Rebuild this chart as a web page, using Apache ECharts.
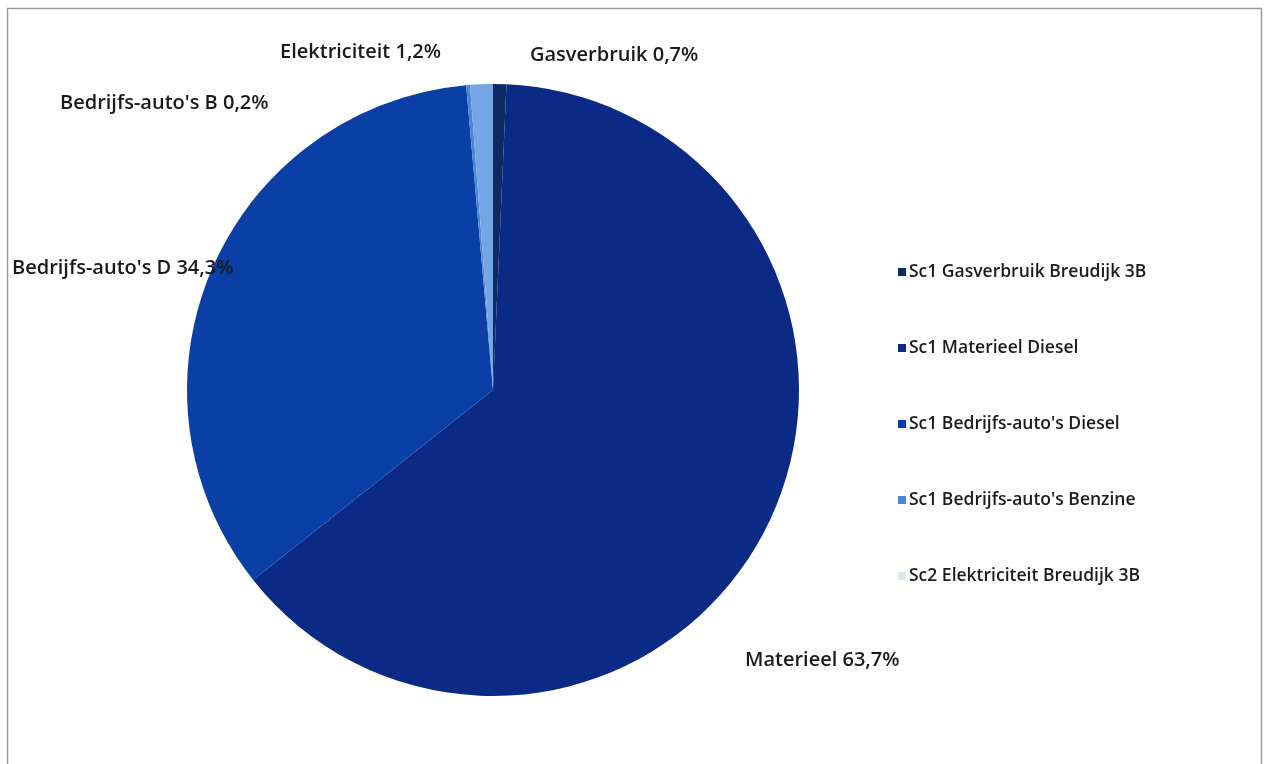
<!DOCTYPE html>
<html>
<head>
<meta charset="utf-8">
<script src="https://cdn.jsdelivr.net/npm/echarts@6/dist/echarts.min.js"></script>
<style>
  html, body { margin: 0; padding: 0; background: #ffffff; }
  #chart { width: 1268px; height: 764px; }
</style>
</head>
<body>
<div id="chart"></div>
<script>
// Energieverbruik per bron (aandeel in %)
const categories = [
  'Sc1 Gasverbruik Breudijk 3B',
  'Sc1 Materieel Diesel',
  "Sc1 Bedrijfs-auto's Diesel",
  "Sc1 Bedrijfs-auto's Benzine",
  'Sc2 Elektriciteit Breudijk 3B'
];
const shortNames = ['Gasverbruik', 'Materieel', "Bedrijfs-auto's D", "Bedrijfs-auto's B", 'Elektriciteit'];
const values = [0.7, 63.7, 34.3, 0.2, 1.2];

const sliceColors = ['#0f2a62', '#0b2a86', '#0a3fa6', '#4a86d6', '#74a6e6'];
const legendColors = ['#0f2a62', '#0b2a86', '#0a3fa6', '#4a86d6', '#dde7f4'];

// label anchor points per slice (left edge, vertical middle)
const labelSpots = [[530, 55], [745, 660], [12, 268], [60, 103], [280, 52]];

const chart = echarts.init(document.getElementById('chart'), null, { renderer: 'canvas' });

const fmt = v => v.toFixed(1).replace('.', ',') + '%';

chart.setOption({
  backgroundColor: '#ffffff',
  animation: false,
  graphic: [{
    type: 'rect',
    shape: { x: 7.5, y: 8.5, width: 1254, height: 800 },
    style: { fill: 'none', stroke: '#9a9a9a', lineWidth: 1.5 },
    silent: true
  }],
  legend: {
    orient: 'vertical',
    left: 898,
    top: 263,
    padding: 0,
    itemWidth: 8,
    itemHeight: 8,
    itemGap: 58,
    icon: 'rect',
    textStyle: { fontFamily: 'Open Sans', fontSize: 17.5, fontWeight: 600, color: '#1c1c1c', padding: [0, 0, 0, -2] },
    data: categories.map((c, i) => ({ name: c, itemStyle: { color: legendColors[i] } }))
  },
  series: [{
    type: 'pie',
    center: [493, 390],
    radius: 306,
    startAngle: 90,
    clockwise: true,
    avoidLabelOverlap: false,
    itemStyle: { borderWidth: 0 },
    label: {
      show: true,
      position: 'outside',
      fontFamily: 'Open Sans',
      fontSize: 20,
      fontWeight: 600,
      color: '#1a1a1a',
      formatter: p => shortNames[p.dataIndex] + ' ' + fmt(p.value)
    },
    labelLine: { show: false },
    labelLayout: p => {
      const s = labelSpots[p.dataIndex];
      return { x: s[0], y: s[1], align: 'left', verticalAlign: 'middle' };
    },
    data: categories.map((c, i) => ({ name: c, value: values[i], itemStyle: { color: sliceColors[i] } }))
  }]
});
</script>
</body>
</html>
